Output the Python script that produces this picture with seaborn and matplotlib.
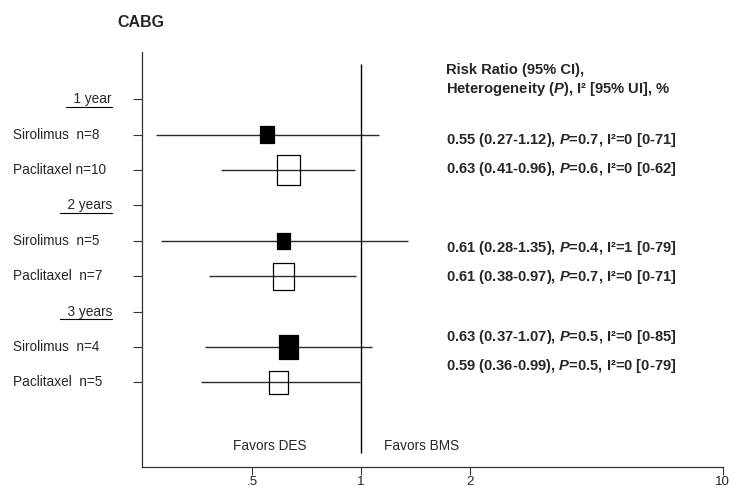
import matplotlib
matplotlib.use("Agg")
import matplotlib.pyplot as plt
import seaborn as sns
import pandas as pd
from matplotlib.path import Path
from matplotlib.ticker import NullLocator
from matplotlib.transforms import blended_transform_factory

# rows of the forest plot, top to bottom
row_labels = ["1 year", "Sirolimus  n=8", "Paclitaxel n=10",
              "2 years", "Sirolimus  n=5", "Paclitaxel  n=7",
              "3 years", "Sirolimus  n=4", "Paclitaxel  n=5"]
is_header = [True, False, False, True, False, False, True, False, False]

# pooled estimates (one per drug / follow-up)
study_row = [1, 2, 4, 5, 7, 8]
drug = ["Sirolimus", "Paclitaxel"] * 3
rr = [0.55, 0.63, 0.61, 0.61, 0.63, 0.59]
ci_low = [0.27, 0.41, 0.28, 0.38, 0.37, 0.36]
ci_high = [1.12, 0.96, 1.35, 0.97, 1.07, 0.99]
weight = [12.6, 21.4, 11.4, 19.6, 17.4, 17.0]   # box height, pt
p_het = ["0.7", "0.6", "0.4", "0.7", "0.5", "0.5"]
i2 = ["0", "0", "1", "0", "0", "0"]
i2_ui = ["0-71", "0-62", "0-79", "0-71", "0-85", "0-79"]
annot_y = [1.15, 1.98, 4.19, 5.01, 6.73, 7.53]

xticks = [0.5, 1, 2, 10]
xtick_labels = [".5", "1", "2", "10"]

df = pd.DataFrame({"row": study_row, "drug": drug, "rr": rr,
                   "lo": ci_low, "hi": ci_high, "w": weight})

sns.set_style("white")
plt.rcParams["font.family"] = ["Liberation Sans", "DejaVu Sans"]
plt.rcParams["mathtext.fontset"] = "custom"
plt.rcParams["mathtext.rm"] = "Liberation Sans:bold"
plt.rcParams["mathtext.it"] = "Liberation Sans:italic:bold"
plt.rcParams["mathtext.bf"] = "Liberation Sans:bold"

fig = plt.figure(figsize=(7.33, 4.90), dpi=100)
ax = fig.add_axes([0.1941, 0.0476, 0.7918, 0.8469])
ax.set_xscale("log")

# confidence intervals and the line of no effect
ax.hlines(df.row, df.lo, df.hi, color="#2a2a2a", lw=1.0, zorder=1)
ax.vlines(1, -1, 10, color="black", lw=1.0, zorder=1)

# boxes: slightly taller than wide, as in the original export
box = Path([(-0.39, -0.5), (0.39, -0.5), (0.39, 0.5), (-0.39, 0.5), (-0.39, -0.5)],
           closed=True)
for name, face in [("Sirolimus", "black"), ("Paclitaxel", "none")]:
    sub = df[df.drug == name]
    sns.scatterplot(data=sub, x="rr", y="row", marker=box, s=sub.w ** 2,
                    facecolor=face, edgecolor="black", linewidth=0.9,
                    ax=ax, zorder=3, legend=False)

ax.set_xlim(0.248, 10)
ax.set_ylim(10.38, -1.345)
ax.set_xlabel("")
ax.set_ylabel("")

ax.set_xticks(xticks)
ax.set_xticklabels(xtick_labels)
ax.xaxis.set_minor_locator(NullLocator())
ax.set_yticks(range(len(row_labels)))
ax.set_yticklabels([])
ax.tick_params(axis="x", bottom=True, length=5.5, width=0.8, color="#333333",
               labelsize=9.6, pad=1)
ax.tick_params(axis="y", left=True, length=6.8, width=0.8, color="#333333")
for s in ["top", "right"]:
    ax.spines[s].set_visible(False)
for s in ["left", "bottom"]:
    ax.spines[s].set_color("#333333")
    ax.spines[s].set_linewidth(0.9)

# row labels
ytrans = blended_transform_factory(ax.transAxes, ax.transData)
headers = []
for i, (lab, hd) in enumerate(zip(row_labels, is_header)):
    if hd:
        t = ax.text(-0.0522, i, "  " + lab, transform=ytrans, ha="right",
                    va="center", fontsize=9.8)
        headers.append((t, i))
    else:
        ax.text(-0.2233, i, lab, transform=ytrans, ha="left", va="center",
                fontsize=9.8)

ax.text(0.558, 9.79, "Favors DES", ha="center", va="center", fontsize=9.8)
ax.text(1.47, 9.79, "Favors BMS", ha="center", va="center", fontsize=9.8)

# estimates text column
ax.text(0.523, -0.53, "Risk Ratio (95% CI),\nHeterogeneity ($P$), I² [95% UI], %",
        transform=ytrans, ha="left", va="center", fontsize=10.6,
        fontweight="bold", linespacing=1.25)
for k in range(len(rr)):
    s = (f"{rr[k]:.2f} ({ci_low[k]:.2f}-{ci_high[k]:.2f}), $P$={p_het[k]}, "
         f"I²={i2[k]} [{i2_ui[k]}]")
    ax.text(0.523, annot_y[k], s, transform=ytrans, ha="left", va="center",
            fontsize=10.6, fontweight="bold")

fig.text(0.16, 0.955, "CABG", ha="left", va="center", fontsize=11.5,
         fontweight="bold")

# underline the follow-up headers
fig.canvas.draw()
renderer = fig.canvas.get_renderer()
inv = ax.transAxes.inverted()
for t, row in headers:
    bb = t.get_window_extent(renderer)
    x0 = inv.transform((bb.x0, 0))[0]
    x1 = inv.transform((bb.x1, 0))[0]
    ax.plot([x0, x1], [row + 0.21, row + 0.21], transform=ytrans,
            clip_on=False, color="black", lw=0.8)

fig.savefig("out.png", dpi=100)
